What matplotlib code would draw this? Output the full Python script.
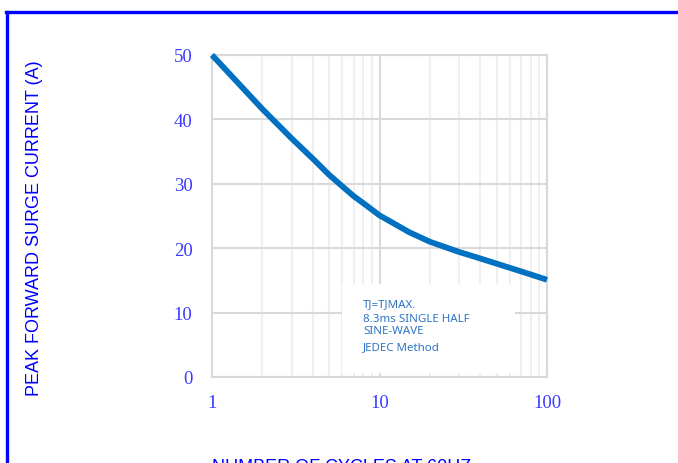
import matplotlib
matplotlib.use("Agg")
import matplotlib.pyplot as plt
from matplotlib.lines import Line2D
from matplotlib.patches import Rectangle
from matplotlib.ticker import FixedLocator, LogLocator, NullFormatter

# data
cycles = [1, 2, 3, 4, 5, 6, 7, 8, 10, 15, 20, 30, 40, 50, 70, 100]
current = [50, 41.6, 37.0, 33.9, 31.4, 29.6, 28.1, 27.0, 25.1, 22.5, 21.0, 19.4, 18.4, 17.6, 16.4, 15.1]
x_ticks = [1, 10, 100]
x_labels = ["1", "10", "100"]
y_ticks = [0, 10, 20, 30, 40, 50]
note_lines = ["TJ=TJMAX.", "8.3ms SINGLE HALF", "SINE-WAVE", "JEDEC Method"]

W, H = 678, 464
fig = plt.figure(figsize=(W / 100, H / 100), dpi=100)
ax = fig.add_axes([212 / W, 1 - 378 / H, (547 - 212) / W, (378 - 56) / H])

ax.set_xscale("log")
ax.set_xlim(1, 100)
ax.set_ylim(0, 50)

ax.plot(cycles, current, color="#0070c0", lw=4.2, solid_capstyle="butt",
        solid_joinstyle="round", zorder=5, clip_on=False)

ax.xaxis.set_major_locator(FixedLocator(x_ticks))
ax.set_xticklabels(x_labels)
ax.xaxis.set_minor_locator(LogLocator(base=10, subs=range(2, 10)))
ax.xaxis.set_minor_formatter(NullFormatter())
ax.set_yticks(y_ticks)

for lab in ax.get_xticklabels() + ax.get_yticklabels():
    lab.set_fontfamily("Liberation Serif")
    lab.set_fontsize(13.5)
    lab.set_color("#3a3aff")
ax.tick_params(which="both", length=0)
ax.tick_params(axis="y", pad=14)
ax.tick_params(axis="x", pad=12)

ax.grid(which="major", color="#d9d9d9", lw=1.5)
ax.grid(which="minor", axis="x", color="#efefef", lw=1.5)
ax.set_axisbelow(True)
for s in ax.spines.values():
    s.set_color("#d9d9d9")
    s.set_linewidth(1.5)

# note box over the grid
box = Rectangle((342 / W, 1 - 374 / H), (515 - 342) / W, (374 - 285) / H,
                transform=fig.transFigure, facecolor="white", edgecolor="none", zorder=3)
fig.patches.append(box)
for txt, ypx in zip(note_lines, [305, 319, 332, 348]):
    fig.text(363 / W, 1 - ypx / H, txt, fontsize=8.3, family="Noto Sans",
             color="#2e75c6", va="center", ha="left", zorder=4)

label_font = dict(family="Liberation Sans", size=13, color="blue")
fig.text(35 / W, 1 - 228 / H, "PEAK FORWARD SURGE CURRENT (A)", rotation=90,
         ha="center", va="center", **label_font)
fig.text(212 / W, 1 - 459 / H, "NUMBER OF CYCLES AT 60HZ", ha="left", va="top", **label_font)

# blue frame
fig.add_artist(Line2D([7 / W, 7 / W], [0, 1 - 12.5 / H], color="blue", lw=2.4,
                      transform=fig.transFigure))
fig.add_artist(Line2D([5.8 / W, 1], [1 - 12.5 / H, 1 - 12.5 / H], color="blue", lw=2.4,
                      transform=fig.transFigure))

fig.savefig("out.png", dpi=100)
